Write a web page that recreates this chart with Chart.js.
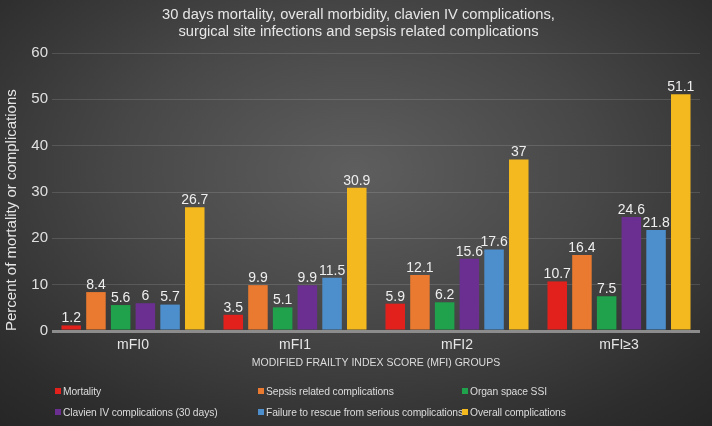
<!DOCTYPE html>
<html>
<head>
<meta charset="utf-8">
<script src="https://cdn.jsdelivr.net/npm/chart.js@4.4.1/dist/chart.umd.min.js"></script>
<style>
  html, body { margin: 0; padding: 0; }
  body {
    width: 712px; height: 426px; overflow: hidden;
    background: radial-gradient(ellipse 75% 80% at 50% 40%, #5e5e5e 0%, #474747 45%, #2d2d2d 85%, #262626 100%);
    font-family: "Liberation Sans", Arial, sans-serif;
  }
  #wrap { position: relative; width: 712px; height: 426px; }
  #title {
    position: absolute; left: 0; top: 5.5px; width: 717px; text-align: center;
    color: #e6e6e6; font-size: 14.7px; line-height: 17px;
  }
  #legend {
    position: absolute; left: 55px; top: 381px;
    display: grid; grid-template-columns: 203px 204px 200px; grid-auto-rows: 21px;
    color: #dcdcdc; font-size: 10.3px; letter-spacing: -0.1px; line-height: 21px; white-space: nowrap;
  }
  #legend span.box { display: inline-block; width: 6px; height: 6px; margin-right: 2px; vertical-align: 1px; position: relative; z-index: 1; }
</style>
</head>
<body>
<div id="wrap">
  <canvas id="chart" width="712" height="426"></canvas>
  <div id="title"></div>
  <div id="legend"></div>
</div>
<script>
// 数据
const titleLines = ['30 days mortality, overall morbidity, clavien IV complications,',
  'surgical site infections and sepsis related complications'];
const categories = ['mFI0', 'mFI1', 'mFI2', 'mFI\u22653'];
const seriesNames = ['Mortality', 'Sepsis related complications', 'Organ space SSI',
  'Clavien IV complications (30 days)', 'Failure to rescue from serious complications', 'Overall complications'];
const mortality = [1.2, 3.5, 5.9, 10.7];
const sepsis = [8.4, 9.9, 12.1, 16.4];
const organSSI = [5.6, 5.1, 6.2, 7.5];
const clavien = [6, 9.9, 15.6, 24.6];
const failureRescue = [5.7, 11.5, 17.6, 21.8];
const overall = [26.7, 30.9, 37, 51.1];
const yMax = 60, yStep = 10;

const colors = ['#e2211c', '#e97a30', '#1fa24b', '#6a2f90', '#4d8fcc', '#f4b91e'];
const seriesData = [mortality, sepsis, organSSI, clavien, failureRescue, overall];
const FONT = '"Liberation Sans", Arial, sans-serif';

// 柱顶数值
const valueLabels = {
  id: 'valueLabels',
  afterDatasetsDraw(chart) {
    const ctx = chart.ctx;
    ctx.save();
    ctx.fillStyle = '#eeeeee';
    ctx.font = '14px ' + FONT;
    ctx.textAlign = 'center';
    ctx.textBaseline = 'bottom';
    chart.data.datasets.forEach((ds, i) => {
      chart.getDatasetMeta(i).data.forEach((bar, j) => {
        ctx.fillText(String(ds.data[j]), bar.x, bar.y);
      });
    });
    ctx.restore();
  }
};

new Chart(document.getElementById('chart'), {
  type: 'bar',
  data: {
    labels: categories,
    datasets: seriesData.map((d, i) => ({
      label: seriesNames[i], data: d, backgroundColor: colors[i],
      borderWidth: 0, categoryPercentage: 0.915, barPercentage: 0.79
    }))
  },
  options: {
    responsive: false, animation: false,
    layout: { padding: { left: 0, right: 12, top: 53, bottom: 55 } },
    plugins: {
      legend: { display: false },
      tooltip: { enabled: false },
      title: { display: false }
    },
    scales: {
      x: {
        grid: { display: false, drawTicks: false },
        border: { display: false },
        ticks: { color: '#e6e6e6', font: { size: 14, family: FONT }, padding: 6 },
        title: { display: true, text: 'MODIFIED FRAILTY INDEX SCORE (MFI) GROUPS', color: '#dcdcdc',
                 font: { size: 10.5, family: FONT }, padding: { top: 0, bottom: 2 } },
        afterFit: s => { s.height = 40; }
      },
      y: {
        min: 0, max: yMax,
        border: { display: false },
        grid: {
          drawTicks: false,
          color: c => c.tick.value === 0 ? '#8c8c8c' : 'rgba(255,255,255,0.13)',
          lineWidth: c => c.tick.value === 0 ? 3 : 1
        },
        ticks: { stepSize: yStep, color: '#e0e0e0', padding: 4, font: { size: 15, family: FONT } },
        title: { display: true, text: 'Percent of mortality or complications', color: '#e6e6e6', align: 'start',
                 font: { size: 15, family: FONT }, padding: { top: 3, bottom: 0 } },
        afterFit: s => { s.width = 52; }
      }
    }
  },
  plugins: [valueLabels]
});

document.getElementById('title').innerHTML = titleLines.join('<br>');

// 图例
const legend = document.getElementById('legend');
seriesNames.forEach((name, i) => {
  const item = document.createElement('div');
  item.innerHTML = '<span class="box" style="background:' + colors[i] + '"></span>' + name;
  legend.appendChild(item);
});
</script>
</body>
</html>
